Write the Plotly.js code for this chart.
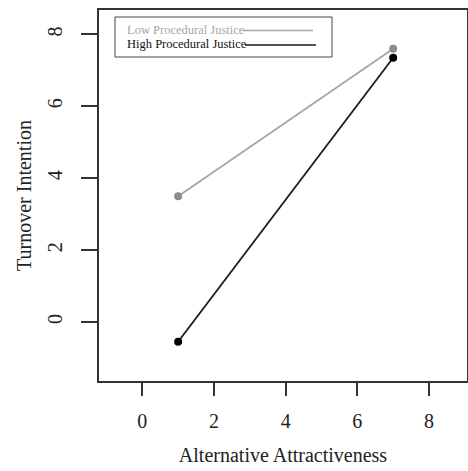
<!DOCTYPE html>
<html>
<head>
<meta charset="utf-8">
<script src="https://cdn.plot.ly/plotly-3.0.1.min.js"></script>
<style>html,body{margin:0;padding:0;background:#fff;}#chart{width:468px;height:471px;}</style>
</head>
<body>
<div id="chart"></div>
<script>
// Data
const attractiveness = [1, 7];
const lowProceduralJustice = [3.5, 7.6];
const highProceduralJustice = [-0.55, 7.35];
const seriesNames = ["Low Procedural Justice", "High Procedural Justice"];
const xTicks = [0, 2, 4, 6, 8];
const yTicks = [0, 2, 4, 6, 8];

const W = 468, H = 471;
const L = 99, R = 467, T = 10, B = 381;
const px = v => (v - L) / (R - L);
const py = v => (B - v) / (B - T);
const FONT = "Liberation Serif, Times New Roman, serif";

const traces = [
  {x: attractiveness, y: lowProceduralJustice, name: seriesNames[0], mode: "lines+markers",
   line: {color: "#a6a6a6", width: 1.8}, marker: {color: "#8c8c8c", size: 8}},
  {x: attractiveness, y: highProceduralJustice, name: seriesNames[1], mode: "lines+markers",
   line: {color: "#1a1a1a", width: 1.8}, marker: {color: "#000000", size: 8}}
];

const layout = {
  width: W, height: H,
  margin: {l: L, r: W - R, t: T, b: H - B},
  paper_bgcolor: "#fff", plot_bgcolor: "#fff",
  showlegend: false,
  font: {family: FONT, color: "#222", size: 20},
  xaxis: {
    range: [-1.208, 9.06], tickvals: xTicks, ticktext: xTicks.map(String),
    showgrid: false, zeroline: false, showline: true, mirror: true,
    linecolor: "#333", linewidth: 2, ticks: "outside", ticklen: 13, tickwidth: 2, tickcolor: "#333",
    ticklabelstandoff: 8,
    tickfont: {family: FONT, size: 20, color: "#222"},
    title: {text: "Alternative Attractiveness", font: {family: FONT, size: 20, color: "#222"}, standoff: 17}
  },
  yaxis: {
    range: [-1.64, 8.68], tickvals: yTicks, ticktext: yTicks.map(String), tickangle: -90,
    showgrid: false, zeroline: false, showline: true, mirror: true,
    linecolor: "#333", linewidth: 2, ticks: "outside", ticklen: 16, tickwidth: 2, tickcolor: "#333",
    ticklabelstandoff: 11,
    tickfont: {family: FONT, size: 20, color: "#222"},
    title: {text: "Turnover Intention", font: {family: FONT, size: 20, color: "#222"}, standoff: 7}
  },
  shapes: [
    {type: "rect", xref: "paper", yref: "paper", x0: px(115), x1: px(332), y0: py(57), y1: py(17),
     line: {color: "#444", width: 1}, fillcolor: "rgba(0,0,0,0)"},
    {type: "line", xref: "paper", yref: "paper", x0: px(243), x1: px(313), y0: py(30.5), y1: py(30.5),
     line: {color: "#a6a6a6", width: 1.5}},
    {type: "line", xref: "paper", yref: "paper", x0: px(245), x1: px(316), y0: py(45), y1: py(45),
     line: {color: "#1a1a1a", width: 1.5}}
  ],
  annotations: [
    {xref: "paper", yref: "paper", x: px(125), y: py(30), xanchor: "left", yanchor: "middle",
     text: seriesNames[0], showarrow: false, font: {family: FONT, size: 12.5, color: "#a6a6a6"}},
    {xref: "paper", yref: "paper", x: px(125), y: py(44), xanchor: "left", yanchor: "middle",
     text: seriesNames[1], showarrow: false, font: {family: FONT, size: 12.5, color: "#111"}}
  ]
};

Plotly.newPlot("chart", traces, layout, {displayModeBar: false, staticPlot: true});
</script>
</body>
</html>
